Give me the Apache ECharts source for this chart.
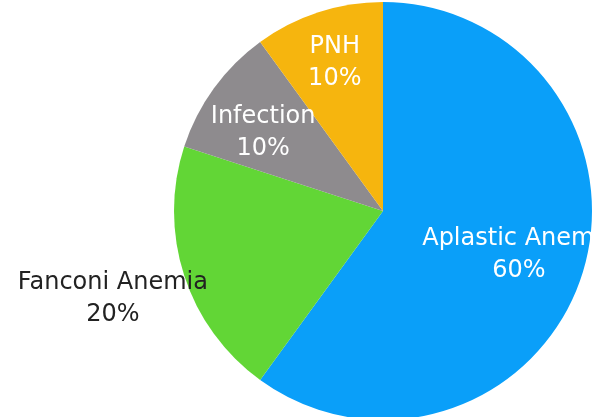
<!DOCTYPE html>
<html>
<head>
<meta charset="utf-8">
<script src="https://cdn.jsdelivr.net/npm/echarts@6/dist/echarts.min.js"></script>
<style>
  html, body { margin: 0; padding: 0; background: #fff; }
  #chart { width: 600px; height: 417px; }
</style>
</head>
<body>
<div id="chart"></div>
<script>
'use strict';

var categories = ['Aplastic Anemia', 'Fanconi Anemia', 'Infection', 'PNH'],
    values = [60, 20, 10, 10];

var colors = ['#0a9ff9', '#62d636', '#8e8b8e', '#f6b50e'],
    labelColors = ['#fff', '#222', '#fff', '#fff'],
    // label centre: distance from the pie centre (px) and a small turn off the slice's mid angle (deg)
    labelDist = [140, 281, 140, 153],
    labelTurn = [0, 0, -3, 0];

var pieRadius = 209;

var total = values.reduce(function (a, b) { return a + b; }, 0);

// mid angle of each slice, clockwise from 12 o'clock
var midAngles = [];
var acc = 0;
values.forEach(function (v) {
    midAngles.push((acc + v / 2) / total * Math.PI * 2);
    acc += v;
});

var chart = echarts.init(document.getElementById('chart'));

var option = {
    animation: false,
    series: [{
        type: 'pie',
        center: [383, 211],
        radius: [0, pieRadius],
        startAngle: 90,
        clockwise: true,
        avoidLabelOverlap: false,
        itemStyle: {
            borderWidth: 0
        },
        label: {
            show: true,
            position: 'inside',
            fontFamily: 'DejaVu Sans',
            fontSize: 24,
            lineHeight: 32,
            align: 'center',
            formatter: function (p) {
                return p.name + '\n' + p.value + '%';
            }
        },
        labelLine: { show: false },
        // pie puts inside labels at half the radius; move each one out to its own spot
        labelLayout: function (p) {
            var i = p.dataIndex,
                mid = midAngles[i],
                a = mid + labelTurn[i] * Math.PI / 180,
                r0 = pieRadius / 2;
            return {
                dx: labelDist[i] * Math.sin(a) - r0 * Math.sin(mid),
                dy: -labelDist[i] * Math.cos(a) + r0 * Math.cos(mid)
            };
        },
        data: categories.map(function (name, i) {
            return {
                name: name,
                value: values[i],
                itemStyle: { color: colors[i] },
                label: { color: labelColors[i] }
            };
        })
    }]
};

chart.setOption(option);
</script>
</body>
</html>
